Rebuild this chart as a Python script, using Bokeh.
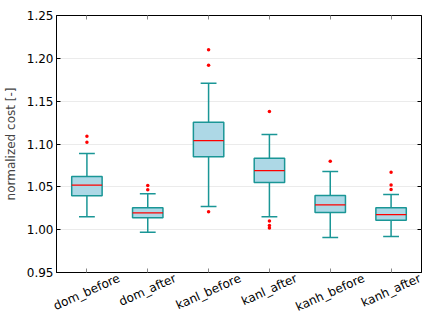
import math
from bokeh.plotting import figure
from bokeh.models import (ColumnDataSource, Range1d, LinearAxis, FixedTicker,
                          NumeralTickFormatter, CustomJSTickFormatter)
from bokeh.transform import dodge
from bokeh.embed import file_html
from bokeh.resources import INLINE

categories = ["dom_before", "dom_after", "kanl_before", "kanl_after", "kanh_before", "kanh_after"]
lower_whisker = [1.015, 0.997, 1.027, 1.015, 0.991, 0.992]
q1 = [1.0395, 1.014, 1.085, 1.055, 1.020, 1.011]
median = [1.052, 1.0195, 1.104, 1.069, 1.029, 1.0175]
q3 = [1.062, 1.0255, 1.1255, 1.0835, 1.040, 1.0255]
upper_whisker = [1.089, 1.042, 1.171, 1.111, 1.068, 1.041]
outlier_cat = ["dom_before", "dom_before", "dom_after", "dom_after",
               "kanl_before", "kanl_before", "kanl_before",
               "kanl_after", "kanl_after", "kanl_after", "kanl_after",
               "kanh_before",
               "kanh_after", "kanh_after", "kanh_after"]
outlier_val = [1.109, 1.102, 1.0515, 1.0465,
               1.210, 1.192, 1.021,
               1.138, 1.010, 1.005, 1.002,
               1.080,
               1.067, 1.052, 1.047]
y_ticks = [0.95, 1.00, 1.05, 1.10, 1.15, 1.20, 1.25]

FONT = "DejaVu Sans"
FONT_PX = 12
EDGE = "#1a9696"
ANGLE = 0.42
FRAME_W = 369
blank = CustomJSTickFormatter(code="return ''")

n = len(categories)
xpos = [i + 0.5 for i in range(n)]          # category slot centres
out_x = [categories.index(c) + 0.5 for c in outlier_cat]

p = figure(width=432, height=324, x_range=Range1d(0, n),
           y_range=Range1d(0.95, 1.25), output_backend="svg",
           toolbar_location=None,
           min_border_left=52, min_border_right=11,
           min_border_top=15, min_border_bottom=52)
p.outline_line_color = "black"
p.outline_line_width = 1
p.xgrid.grid_line_color = None
p.ygrid.grid_line_color = "#ebebeb"
p.ygrid.ticker = FixedTicker(ticks=y_ticks)

src = ColumnDataSource(dict(x=xpos, lw=lower_whisker, q1=q1, med=median,
                            q3=q3, uw=upper_whisker))

# whiskers
p.segment(x0="x", x1="x", y0="q3", y1="uw", source=src, line_color=EDGE, line_width=1.5)
p.segment(x0="x", x1="x", y0="lw", y1="q1", source=src, line_color=EDGE, line_width=1.5)
# caps
p.segment(x0=dodge("x", -0.13), x1=dodge("x", 0.13),
          y0="uw", y1="uw", source=src, line_color=EDGE, line_width=1.5)
p.segment(x0=dodge("x", -0.13), x1=dodge("x", 0.13),
          y0="lw", y1="lw", source=src, line_color=EDGE, line_width=1.5)
# boxes
p.vbar(x="x", width=0.5, bottom="q1", top="q3", source=src,
       fill_color="#add8e6", line_color=EDGE, line_width=1.5)
# medians
p.segment(x0=dodge("x", -0.25), x1=dodge("x", 0.25),
          y0="med", y1="med", source=src, line_color="red", line_width=1.2)
# outliers
osrc = ColumnDataSource(dict(x=out_x, val=outlier_val))
p.scatter(x="x", y="val", source=osrc, size=3.5, fill_color="red", line_color=None)

# y axis
yax = p.yaxis[0]
yax.ticker = FixedTicker(ticks=y_ticks)
yax.formatter = NumeralTickFormatter(format="0.00")
yax.major_tick_in = 4
yax.major_tick_out = 0
yax.minor_tick_in = 0
yax.minor_tick_out = 0
yax.axis_line_color = "black"
yax.major_label_text_font = FONT
yax.major_label_text_font_size = f"{FONT_PX}px"
yax.major_label_text_color = "black"
yax.major_label_standoff = 3
yax.axis_label = "normalized cost [-]"
yax.axis_label_text_font = FONT
yax.axis_label_text_font_size = f"{FONT_PX}px"
yax.axis_label_text_font_style = "normal"
yax.axis_label_standoff = 6

# x axis: Bokeh anchors a rotated label at its right end, so each (invisible) major
# tick carrying a label is shifted right by half the label's projected width to centre
# the text under its category; the visible in-ticks are minor ticks at the centres.
char_em = {"d": .635, "o": .612, "m": .974, "_": .5, "b": .635, "e": .615, "f": .352,
           "r": .411, "a": .613, "t": .392, "k": .579, "n": .634, "l": .278, "h": .634}
unit_px = FRAME_W / n
label_ticks = []
for i, c in enumerate(categories):
    w_px = sum(char_em.get(ch, .6) for ch in c) * FONT_PX
    label_ticks.append(i + 0.5 + (w_px / 2) * math.cos(ANGLE) / unit_px)
label_fmt = CustomJSTickFormatter(
    args=dict(lt=label_ticks, names=categories),
    code="const i = lt.findIndex(t => Math.abs(t - tick) < 1e-6); return i >= 0 ? names[i] : '';")
xax = p.xaxis[0]
xax.ticker = FixedTicker(ticks=label_ticks, minor_ticks=xpos)
xax.formatter = label_fmt
xax.major_label_orientation = ANGLE
xax.major_label_standoff = 5
xax.major_label_text_font = FONT
xax.major_label_text_font_size = f"{FONT_PX}px"
xax.major_label_text_color = "black"
xax.major_tick_line_color = None
xax.major_tick_in = 0
xax.major_tick_out = 0
xax.minor_tick_in = 4
xax.minor_tick_out = 0
xax.minor_tick_line_color = "#888888"
xax.axis_line_color = "black"

top_ax = LinearAxis(ticker=FixedTicker(ticks=xpos), formatter=blank, major_label_standoff=0,
                    major_tick_in=4, major_tick_out=0, minor_tick_in=0, minor_tick_out=0,
                    major_tick_line_color="#888888", axis_line_color=None)
p.add_layout(top_ax, "above")
right_ax = LinearAxis(ticker=FixedTicker(ticks=y_ticks), formatter=blank,
                      major_label_standoff=0,
                      major_tick_in=4, major_tick_out=0, minor_tick_in=0, minor_tick_out=0,
                      axis_line_color=None)
p.add_layout(right_ax, "right")

open("out.html", "w").write(file_html(p, INLINE))
